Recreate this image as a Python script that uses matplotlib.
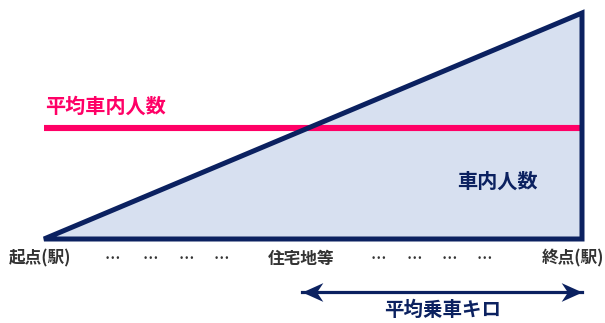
import matplotlib.pyplot as plt
from matplotlib.patches import Polygon
from matplotlib.path import Path

plt.rcParams['font.family'] = ['Noto Sans CJK JP', 'DejaVu Sans']

# relative distance along the line (0 = start, 1 = end) and passengers on board
distance = [0.0, 1.0]
passengers = [0.0, 100.0]
avg_passengers = 49.0
avg_trip_start = 0.479  # where the average trip begins (residential area)

stop_labels = ['起点(駅)', '住宅地等', '終点(駅)']
stop_pos = [-0.008, 0.477, 0.983]
dot_pos = [0.128, 0.197, 0.264, 0.329, 0.621, 0.688, 0.753, 0.818]

navy = '#0b2160'
fill = '#d7e0f0'
pink = '#ff0066'
gray = '#333333'

fig = plt.figure(figsize=(6.05, 3.23), dpi=100)
ax = fig.add_axes([44 / 605, 84 / 323, 538 / 605, 226 / 323])
ax.set_xlim(0, 1)
ax.set_ylim(0, 100)
ax.axis('off')

# load grows from the start to the end of the line
tri = Polygon([(distance[0], passengers[0]), (distance[1], passengers[0]),
               (distance[1], passengers[1])], closed=True,
              facecolor=fill, edgecolor='none', zorder=1)
ax.add_patch(tri)

# average passengers line
ax.plot([distance[0], distance[1]], [avg_passengers, avg_passengers],
        color=pink, lw=4.4, solid_capstyle='butt', zorder=2, clip_on=False)

outline = Polygon([(distance[0], passengers[0]), (distance[1], passengers[0]),
                   (distance[1], passengers[1])], closed=True,
                  facecolor='none', edgecolor=navy, lw=3.6,
                  joinstyle='miter', zorder=3, clip_on=False)
ax.add_patch(outline)

ax.text(0.002, 58.8, '平均車内人数', color=pink, fontsize=14.5, fontweight='bold',
        ha='left', va='center')
ax.text(0.842, 25.7, '車内人数', color=navy, fontsize=14.5, fontweight='bold',
        ha='center', va='center')

# stop labels along the line
for lab, x in zip(stop_labels, stop_pos):
    ax.text(x, -8.8, lab, color=gray, fontsize=12, fontweight='bold',
            ha='center', va='center', clip_on=False)
for x in dot_pos:
    ax.text(x, -8.8, '…', color=gray, fontsize=11, fontweight='bold',
            ha='center', va='center')

# average trip length: line with swept arrow heads at both ends
head_r = Path([(0, 0), (-1, 0.45), (-0.7, 0), (-1, -0.45), (0, 0)],
              [Path.MOVETO, Path.LINETO, Path.LINETO, Path.LINETO, Path.CLOSEPOLY])
head_l = Path([(0, 0), (1, 0.45), (0.7, 0), (1, -0.45), (0, 0)],
              [Path.MOVETO, Path.LINETO, Path.LINETO, Path.LINETO, Path.CLOSEPOLY])
ax.plot([avg_trip_start, distance[1]], [-23.5, -23.5], color=navy, lw=2.3,
        clip_on=False)
ax.plot([distance[1]], [-23.5], marker=head_r, ms=30, color=navy, mew=0,
        clip_on=False)
ax.plot([avg_trip_start], [-23.5], marker=head_l, ms=30, color=navy, mew=0,
        clip_on=False)
ax.text(0.74, -31.4, '平均乗車キロ', color=navy, fontsize=14, fontweight='bold',
        ha='center', va='center')

fig.savefig('out.png', dpi=100)
